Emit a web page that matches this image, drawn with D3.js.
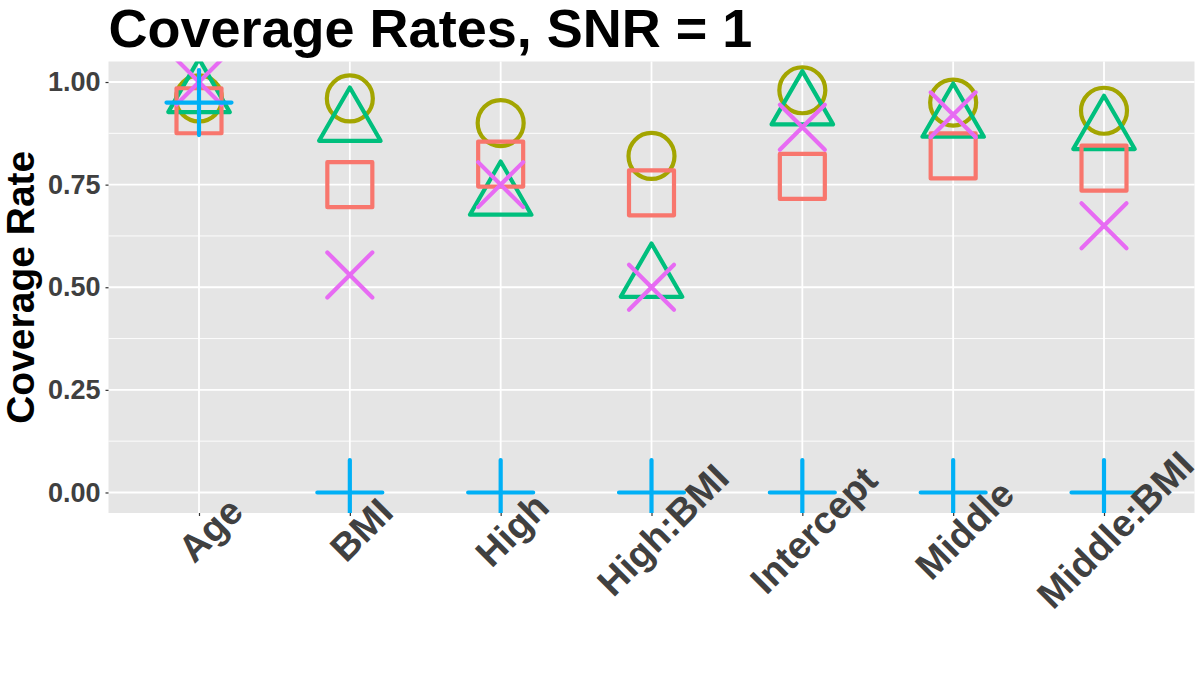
<!DOCTYPE html>
<html lang="en">
<head>
    <meta charset="UTF-8">
    <title>Coverage Rates, SNR = 1</title>
    <script src="https://d3js.org/d3.v7.min.js"></script>
    <style>
        body { margin: 0; background: #fff; }
        text { font-family: "Liberation Sans", Arial, sans-serif; font-weight: bold; }
    </style>
</head>
<body>
    <div id="chart"></div>

    <script>
        // Data
        const categories = ["Age", "BMI", "High", "High:BMI", "Intercept", "Middle", "Middle:BMI"];
        const squareVals   = [0.93, 0.75, 0.80, 0.73, 0.77, 0.82, 0.79];
        const circleVals   = [0.96, 0.96, 0.90, 0.82, 0.98, 0.95, 0.93];
        const triangleVals = [0.97, 0.90, 0.72, 0.52, 0.94, 0.91, 0.88];
        const crossVals    = [1.00, 0.53, 0.75, 0.50, 0.89, 0.92, 0.65];
        const plusVals     = [0.95, 0.00, 0.00, 0.00, 0.00, 0.00, 0.00];
        const yTicks = [0, 0.25, 0.5, 0.75, 1];
        const yMinor = [0.125, 0.375, 0.625, 0.875];

        const width = 1200, height = 700;
        const panel = { left: 108.5, right: 1194.5, top: 61.5, bottom: 513 };

        const svg = d3.select("#chart").append("svg")
            .attr("width", width)
            .attr("height", height);

        const x = d3.scalePoint()
            .domain(categories)
            .range([panel.left, panel.right])
            .padding(0.6);

        const y = d3.scaleLinear()
            .domain([-0.05, 1.05])
            .range([panel.bottom, panel.top]);

        // panel background + grid
        svg.append("rect")
            .attr("x", panel.left).attr("y", panel.top)
            .attr("width", panel.right - panel.left)
            .attr("height", panel.bottom - panel.top)
            .attr("fill", "#E5E5E5");

        svg.append("g").selectAll("line")
            .data(yMinor)
            .join("line")
            .attr("x1", panel.left).attr("x2", panel.right)
            .attr("y1", d => y(d)).attr("y2", d => y(d))
            .attr("stroke", "#fff").attr("stroke-width", 0.9);

        svg.append("g").selectAll("line")
            .data(yTicks)
            .join("line")
            .attr("x1", panel.left).attr("x2", panel.right)
            .attr("y1", d => y(d)).attr("y2", d => y(d))
            .attr("stroke", "#fff").attr("stroke-width", 1.8);

        svg.append("g").selectAll("line")
            .data(categories)
            .join("line")
            .attr("x1", d => x(d)).attr("x2", d => x(d))
            .attr("y1", panel.top).attr("y2", panel.bottom)
            .attr("stroke", "#fff").attr("stroke-width", 1.8);

        // custom symbol types (size = r^2)
        const shapes = {
            circle: { draw(ctx, s) { const r = Math.sqrt(s); ctx.moveTo(r, 0); ctx.arc(0, 0, r, 0, 2 * Math.PI); } },
            square: { draw(ctx, s) { const r = Math.sqrt(s); ctx.rect(-r, -r, 2 * r, 2 * r); } },
            triangle: { draw(ctx, s) {
                const r = Math.sqrt(s);
                ctx.moveTo(0, -r); ctx.lineTo(r * 0.866, r / 2); ctx.lineTo(-r * 0.866, r / 2); ctx.closePath();
            } },
            plus: { draw(ctx, s) {
                const r = Math.sqrt(s);
                ctx.moveTo(-r, 0); ctx.lineTo(r, 0); ctx.moveTo(0, -r); ctx.lineTo(0, r);
            } },
            cross: { draw(ctx, s) {
                const r = Math.sqrt(s);
                ctx.moveTo(-r, -r); ctx.lineTo(r, r); ctx.moveTo(-r, r); ctx.lineTo(r, -r);
            } }
        };

        const series = [
            { vals: circleVals,   shape: shapes.circle,   r: 23,   color: "#A3A500" },
            { vals: triangleVals, shape: shapes.triangle, r: 35.5, color: "#00BF7D" },
            { vals: squareVals,   shape: shapes.square,   r: 22.5, color: "#F8766D" },
            { vals: crossVals,    shape: shapes.cross,    r: 22.5, color: "#E76BF3" },
            { vals: plusVals,     shape: shapes.plus,     r: 32.5, color: "#00B0F6" }
        ];

        svg.append("clipPath").attr("id", "clip")
            .append("rect")
            .attr("x", panel.left).attr("y", panel.top)
            .attr("width", panel.right - panel.left)
            .attr("height", panel.bottom - panel.top);

        const pts = svg.append("g").attr("clip-path", "url(#clip)");

        series.forEach(s => {
            pts.append("g").selectAll("path")
                .data(categories.map((c, i) => ({ cat: c, v: s.vals[i] })))
                .join("path")
                .attr("transform", d => `translate(${x(d.cat)},${y(d.v)})`)
                .attr("d", d3.symbol().type(s.shape).size(s.r * s.r))
                .attr("fill", "none")
                .attr("stroke", s.color)
                .attr("stroke-width", 4.2)
                .attr("stroke-linecap", "round")
                .attr("stroke-linejoin", "round");
        });

        // y axis
        const yAxis = svg.append("g")
            .attr("transform", `translate(${panel.left},0)`)
            .call(d3.axisLeft(y).tickValues(yTicks).tickFormat(d3.format(".2f")).tickSize(3).tickPadding(5));
        yAxis.select(".domain").remove();
        yAxis.selectAll(".tick line").attr("stroke", "#333").attr("stroke-width", 1.2);
        yAxis.selectAll(".tick text")
            .attr("fill", "#404040")
            .style("font-size", "27px");

        // x axis
        const xAxis = svg.append("g")
            .attr("transform", `translate(0,${panel.bottom})`)
            .call(d3.axisBottom(x).tickSize(3).tickPadding(0));
        xAxis.select(".domain").remove();
        xAxis.selectAll(".tick line").attr("stroke", "#333").attr("stroke-width", 1.2);
        xAxis.selectAll(".tick text")
            .attr("fill", "#404040")
            .style("font-size", "38px")
            .attr("text-anchor", "middle")
            .attr("dy", null)
            .attr("y", 0)
            .attr("dominant-baseline", "central")
            .attr("transform", "translate(11,17) rotate(-45)");

        // titles
        svg.append("text")
            .attr("x", panel.left)
            .attr("y", 47)
            .attr("fill", "#000")
            .style("font-size", "54px")
            .text("Coverage Rates, SNR = 1");

        svg.append("text")
            .attr("transform", `translate(34,${(panel.top + panel.bottom) / 2}) rotate(-90)`)
            .attr("text-anchor", "middle")
            .attr("fill", "#000")
            .style("font-size", "39px")
            .text("Coverage Rate");
    </script>
</body>
</html>
